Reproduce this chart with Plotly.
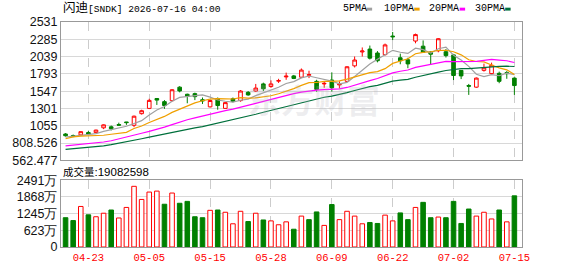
import plotly.graph_objects as go
import pandas as pd

dates = ["04-20","04-21","04-22","04-23","04-24","04-27","04-28","04-29","04-30","05-01",
         "05-04","05-05","05-06","05-07","05-08","05-11","05-12","05-13","05-14","05-15",
         "05-18","05-19","05-20","05-21","05-22","05-26","05-27","05-28","05-29","06-01",
         "06-02","06-03","06-04","06-05","06-08","06-09","06-10","06-11","06-12","06-15",
         "06-16","06-17","06-18","06-22","06-23","06-24","06-25","06-26","06-29","06-30",
         "07-01","07-02","07-06","07-07","07-08","07-09","07-10","07-13","07-14","07-15"]

open_ = [938, 916, 925, 958, 958, 1026, 1040, 1072, 1109, 1062,
         1227, 1302, 1443, 1398, 1412, 1604, 1503, 1512, 1425, 1324,
         1443, 1302, 1439, 1412, 1530, 1549, 1650, 1613, 1690, 1750,
         1764, 1746, 1773, 1687, 1650, 1705, 1636, 1687, 1907, 2105,
         2146, 2090, 2067, 2331, 2022, 1994, 2260, 2187, 2104, 2122,
         2108, 2063, 1843, 1627, 1604, 1843, 1797, 1801, 1811, 1733]
high = [950, 930, 975, 980, 1000, 1075, 1058, 1099, 1110, 1200,
        1283, 1439, 1445, 1420, 1577, 1618, 1512, 1526, 1457, 1420,
        1457, 1389, 1457, 1563, 1549, 1650, 1668, 1701, 1723, 1811,
        1778, 1870, 1838, 1709, 1687, 1815, 1687, 1902, 2040, 2169,
        2196, 2117, 2224, 2389, 2081, 2022, 2366, 2269, 2114, 2301,
        2146, 2077, 1847, 1650, 1742, 1939, 1953, 1825, 1833, 1742]
low = [900, 893, 920, 925, 950, 1007, 989, 1058, 1068, 1035,
       1214, 1292, 1351, 1296, 1402, 1530, 1375, 1420, 1365, 1315,
       1283, 1298, 1388, 1398, 1481, 1536, 1549, 1595, 1664, 1709,
       1719, 1733, 1733, 1540, 1595, 1540, 1585, 1678, 1884, 2040,
       1998, 1957, 2053, 2274, 1930, 1874, 2228, 2090, 1925, 2100,
       2026, 1705, 1719, 1494, 1595, 1825, 1788, 1660, 1723, 1494]
close = [913, 902, 971, 938, 993, 1068, 1013, 1064, 1100, 1191,
         1269, 1416, 1420, 1343, 1567, 1550, 1472, 1469, 1410, 1414,
         1343, 1384, 1402, 1549, 1494, 1591, 1581, 1650, 1697, 1760,
         1728, 1847, 1782, 1572, 1658, 1595, 1645, 1894, 1990, 2118,
         2017, 1980, 2205, 2321, 1980, 1935, 2352, 2100, 2073, 2293,
         2053, 1770, 1764, 1618, 1733, 1880, 1916, 1687, 1797, 1627]
volume_wan = [1093, 986, 1512, 1200, 1129, 1260, 1380, 1082, 1476, 2264,
              1774, 2049, 2085, 1595, 2013, 1631, 1702, 1129, 1093, 1368,
              1380, 1296, 866, 1332, 950, 1260, 1009, 974, 830, 938,
              663, 1153, 1021, 1308, 806, 1583, 1021, 1332, 1153, 866,
              914, 878, 1189, 974, 1272, 1021, 1476, 1666, 1093, 1117,
              1093, 1702, 878, 1416, 1153, 1296, 1046, 1380, 938, 1908.2598]

# MA values for bars before a full window exists
ma5_head = [893, 907, 920, 934]
ma10_head = [870, 897, 907, 911, 916, 920, 934, 943, 962]
ma20_head = [769, 778, 787, 796, 810, 824, 842, 870, 902, 925,
             948, 975, 1003, 1035, 1072, 1110, 1141, 1168, 1196]
ma30_head = [718, 728, 737, 746, 755, 769, 787, 806, 824, 847,
             870, 893, 916, 938, 962, 989, 1003, 1026, 1044, 1068,
             1090, 1113, 1141, 1164, 1191, 1219, 1247, 1274, 1306]

price_ticks = ["2531", "2285", "2039", "1793", "1547", "1301", "1055", "808.526", "562.477"]
vol_ticks = ["0", "623万", "1245万", "1868万", "2491万"]
x_tick_labels = ["04-23", "05-05", "05-15", "05-28", "06-09", "06-22", "07-02", "07-15"]
ma_names = ["5PMA", "10PMA", "20PMA", "30PMA"]
ma_colors = ["#a0a0a0", "#f0a000", "#ff00ff", "#00703c"]

RED = "#ff0000"
GREEN = "#008000"

s = pd.Series(close, dtype=float)
def ma(n, head):
    r = s.rolling(n).mean().tolist()
    return head + r[len(head):]
mas = [ma(5, ma5_head), ma(10, ma10_head), ma(20, ma20_head), ma(30, ma30_head)]

vol_colors = []
for i in range(len(close)):
    ref = close[i - 1] if i > 0 else open_[i]
    vol_colors.append(RED if close[i] >= ref else GREEN)

fig = go.Figure()
fig.add_trace(go.Candlestick(
    x=dates, open=open_, high=high, low=low, close=close,
    increasing=dict(line=dict(color=RED, width=1), fillcolor="white"),
    decreasing=dict(line=dict(color=GREEN, width=1), fillcolor=GREEN),
    whiskerwidth=0, xaxis="x", yaxis="y", hoverinfo="skip", showlegend=False))
for m, c in zip(mas, ma_colors):
    fig.add_trace(go.Scatter(x=dates, y=m, mode="lines", line=dict(color=c, width=1.2),
                             xaxis="x", yaxis="y", hoverinfo="skip", showlegend=False))
fig.add_trace(go.Bar(
    x=dates, y=volume_wan,
    marker=dict(color=["white" if c == RED else GREEN for c in vol_colors],
                line=dict(color=vol_colors, width=1)),
    xaxis="x2", yaxis="y2", hoverinfo="skip", showlegend=False))

W, H = 578, 276
L, R, T, B = 56, 522, 22, 254.5
def px(x):
    return (x - L) / (R - L)
def py(y):
    return (B - y) / (B - T)

price_vals = [float(t) for t in price_ticks]
vol_vals = [float(t.replace("万", "")) for t in vol_ticks]
tick_cats = [d for d in dates if d in x_tick_labels]

grid_h = "#d8d8d8"
grid_v = "#cccccc"
border = "#999999"
axis_font = dict(family="Liberation Sans, Arial", size=12.5, color="#111111")

xcommon = dict(type="category", range=[-0.6, 60.0], showgrid=True, gridcolor=grid_v,
               griddash="dash", gridwidth=1, tickvals=tick_cats, ticktext=tick_cats,
               showline=True, linecolor=border, mirror=True, ticks="", zeroline=False,
               fixedrange=True)

fig.update_layout(
    width=W, height=H,
    margin=dict(l=L, r=W - R, t=T, b=H - B),
    paper_bgcolor="white", plot_bgcolor="white",
    showlegend=False,
    bargap=0.4,
    boxgap=0.32,
    xaxis=dict(**xcommon, anchor="y", showticklabels=False,
               rangeslider=dict(visible=False)),
    xaxis2=dict(**xcommon, anchor="y2", showticklabels=True,
                tickfont=dict(family="Liberation Mono, monospace", size=10.5, color="#ff0000")),
    yaxis=dict(domain=[py(165), 1], range=[562.477, 2531], tickvals=price_vals,
               ticktext=price_ticks, showgrid=True, gridcolor=grid_h, showline=True,
               linecolor=border, mirror=True, ticks="", zeroline=False,
               tickfont=axis_font, fixedrange=True),
    yaxis2=dict(domain=[0, py(185.5)], range=[0, 2491], tickvals=vol_vals,
                ticktext=vol_ticks, showgrid=True, gridcolor=grid_h, showline=True,
                linecolor=border, mirror=True, ticks="", zeroline=False,
                tickfont=axis_font, fixedrange=True),
)

ann = []
# watermark
ann.append(dict(x=px(312), y=py(102), xref="paper", yref="paper", showarrow=False,
                xanchor="center", yanchor="middle",
                text="<b>东方财富</b>", font=dict(family="Noto Sans CJK SC", size=33,
                color="rgba(175,175,185,0.22)")))
# title
ann.append(dict(x=px(56), y=py(8), xref="paper", yref="paper", showarrow=False,
                xanchor="left", yanchor="middle",
                text="<span style='font-size:12.5px'>闪迪</span>[SNDK] 2026-07-16 04:00",
                font=dict(family="Liberation Mono, Noto Sans CJK SC", size=9.6, color="#000")))
# legend
leg_x = [339, 380, 426, 472]
sq_x = [365, 413, 459, 505]
for name, c, lx, sx in zip(ma_names, ma_colors, leg_x, sq_x):
    ann.append(dict(x=px(lx), y=py(8.5), xref="paper", yref="paper", showarrow=False,
                    xanchor="left", yanchor="middle", text=name,
                    font=dict(family="Liberation Mono, monospace", size=10, color="#000")))
    fig.add_shape(type="rect", xref="paper", yref="paper",
                  x0=px(sx), x1=px(sx + 5.5), y0=py(10.2), y1=py(7.2),
                  fillcolor=c, line=dict(width=0))
# volume label
ann.append(dict(x=px(56), y=py(176.5), xref="paper", yref="paper", showarrow=False,
                xanchor="left", yanchor="middle",
                text="<span style='font-size:10.5px'>成交量</span>:19082598",
                font=dict(family="Liberation Sans, Noto Sans CJK SC", size=11.5, color="#000")))
fig.update_layout(annotations=ann)

fig.write_html("out.html", config={"displayModeBar": False, "staticPlot": True})
